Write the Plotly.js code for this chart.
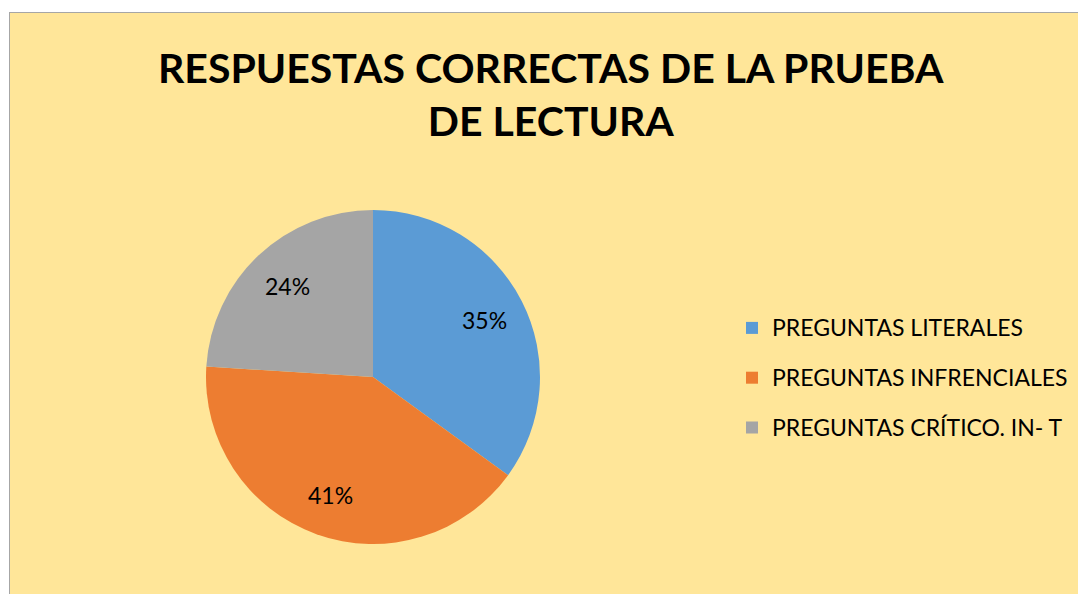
<!DOCTYPE html>
<html>
<head>
<meta charset="utf-8">
<script src="https://cdn.plot.ly/plotly-3.0.1.min.js"></script>
<style>
  html, body { margin: 0; padding: 0; background: #ffffff; width: 1078px; height: 594px; overflow: hidden; }
  #chart { position: absolute; left: 9px; top: 12px; width: 1068px; height: 581px;
           border-left: 1px solid #a6a6a6; border-top: 1px solid #a6a6a6; border-right: 0; border-bottom: 0; }
</style>
</head>
<body>
<div id="chart"></div>
<script>
const categories = ['PREGUNTAS LITERALES', 'PREGUNTAS INFRENCIALES', 'PREGUNTAS CRÍTICO. IN- T'];
const values = [35, 41, 24];
const colors = ['#5B9BD5', '#ED7D31', '#A5A5A5'];
const chartTitle = 'RESPUESTAS CORRECTAS DE LA PRUEBA<br>DE LECTURA';

const W = 1068, H = 581;
const cx = 363, cy = 364, R = 167;
const FONT = 'Lato, sans-serif';

const trace = {
  type: 'pie',
  labels: categories.map(c => '<span style="font-size:23px;baseline-shift:6px">' + c + '</span>'),
  values: values,
  sort: false,
  direction: 'clockwise',
  rotation: 0,
  marker: { colors: colors, line: { width: 0 } },
  textinfo: 'none',
  textposition: 'none',
  hoverinfo: 'label+percent',
  domain: { x: [(cx - R) / W, (cx + R) / W], y: [(H - cy - R) / H, (H - cy + R) / H] }
};

// data labels placed at 75% of the radius, at each slice's mid-angle (Excel style)
const total = values.reduce((a, b) => a + b, 0);
let cum = 0;
const labelAnns = values.map(v => {
  const mid = (cum + v / 2) / total * 2 * Math.PI;
  cum += v;
  const px = cx + 0.75 * R * Math.sin(mid);
  const py = cy - 0.75 * R * Math.cos(mid);
  return {
    text: Math.round(v / total * 100) + '%',
    xref: 'paper', yref: 'paper',
    x: px / W, y: 1 - py / H, xanchor: 'center', yanchor: 'middle',
    showarrow: false,
    font: { family: FONT, size: 23, color: '#000000' }
  };
});

const layout = {
  width: W, height: H,
  margin: { l: 0, r: 0, t: 0, b: 0 },
  paper_bgcolor: '#FFE699',
  plot_bgcolor: '#FFE699',
  showlegend: true,
  legend: {
    x: 722 / W, xanchor: 'left',
    y: 1 - 285 / H, yanchor: 'top',
    font: { family: FONT, size: 36, color: '#000000' },
    bgcolor: 'rgba(0,0,0,0)', borderwidth: 0
  },
  annotations: [{
    text: '<b>' + chartTitle + '</b>',
    xref: 'paper', yref: 'paper',
    x: 541 / W, y: 1 - 81 / H, xanchor: 'center', yanchor: 'middle',
    showarrow: false,
    font: { family: FONT, size: 41, color: '#000000' }
  }].concat(labelAnns)
};

Plotly.newPlot('chart', [trace], layout, { displayModeBar: false, staticPlot: true });
</script>
</body>
</html>
